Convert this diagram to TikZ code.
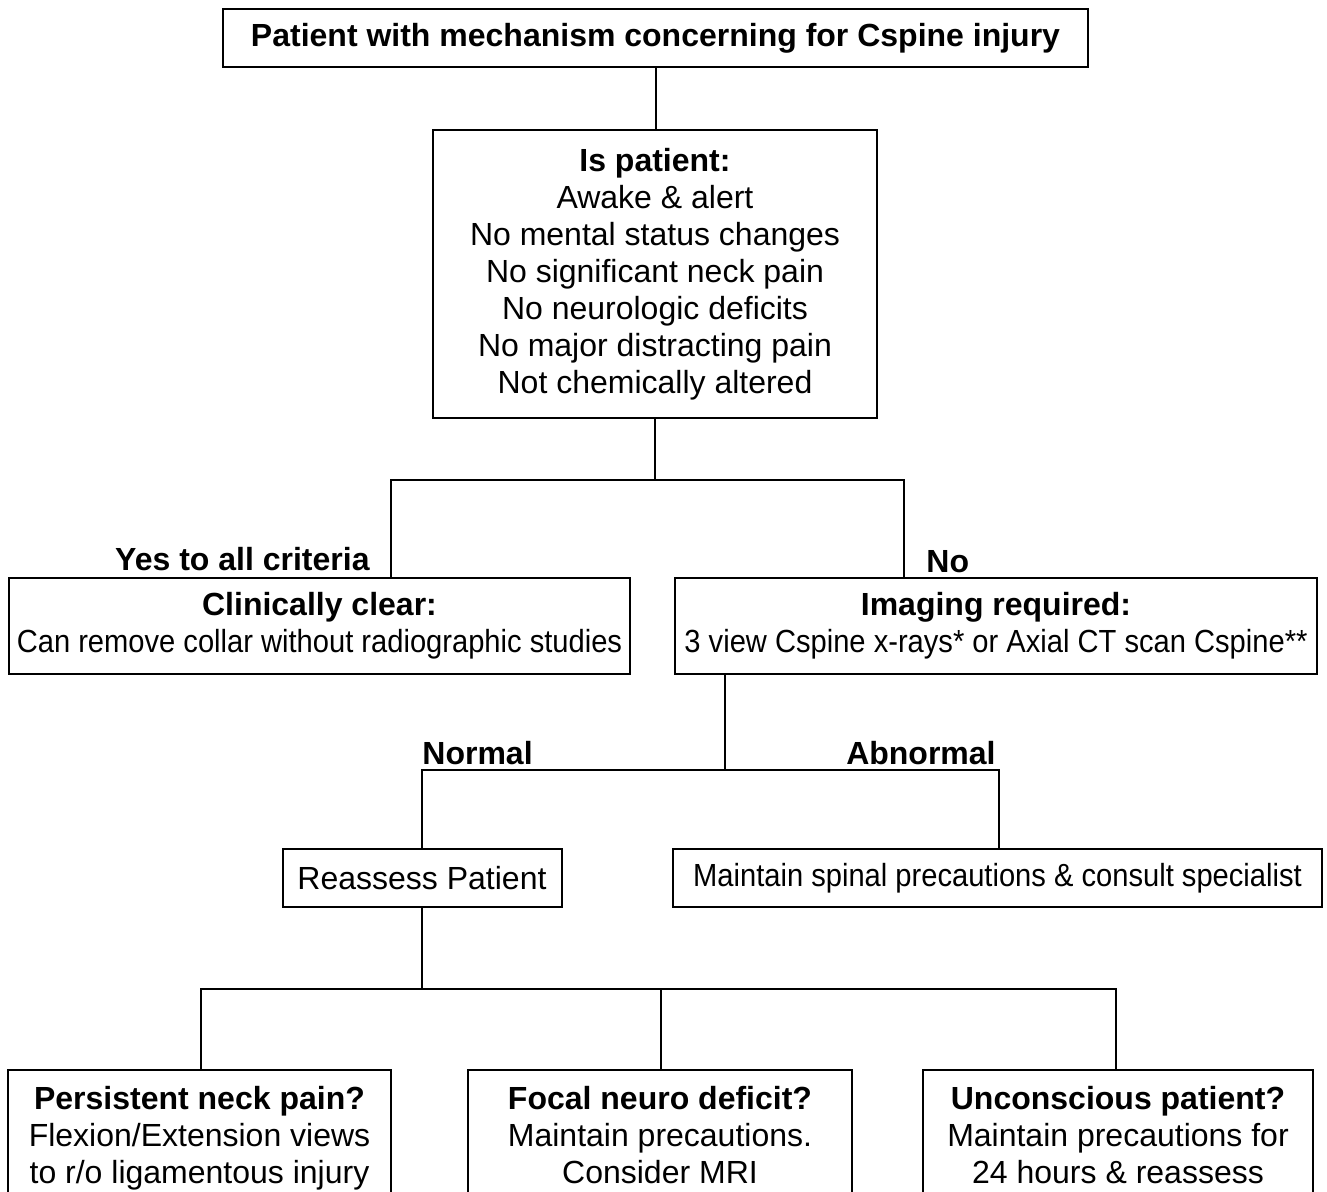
\documentclass[tikz,border=0pt]{standalone}
\usepackage{fontspec}
\setmainfont{Liberation Sans}
\newfontfamily\slimfont[FakeStretch=0.91]{Liberation Sans}
\usetikzlibrary{positioning}

\tikzset{
  flowbox/.style={draw=black,line width=1pt,fill=white,align=center,inner sep=0pt,
    font=\fontsize{16}{18.5}\selectfont},
  branchlabel/.style={inner sep=0pt,font=\fontsize{16}{18.5}\selectfont\bfseries},
  link/.style={draw=black,line width=1pt}
}

\begin{document}
\begin{tikzpicture}[x=0.5pt,y=-0.5pt]
  % --- page frame ---
  \useasboundingbox (0,0) rectangle (1327,1192);
  \clip (0,0) rectangle (1327,1192);

  % --- first question ---
  \node[flowbox,minimum width=432.5pt,minimum height=29pt] (mechanism) at (655.5,38)
    {\textbf{Patient with mechanism concerning for Cspine injury}};
  \node[flowbox,minimum width=222pt,minimum height=144pt] (criteria) at (655,274)
    {\textbf{Is patient:}\\Awake \& alert\\No mental status changes\\No significant neck pain\\
     No neurologic deficits\\No major distracting pain\\Not chemically altered};

  % --- clear or image ---
  \node[flowbox,minimum width=310.5pt,minimum height=48pt] (clear) at (319.5,626)
    {\textbf{Clinically clear:}\\{\slimfont Can remove collar without radiographic studies}};
  \node[flowbox,minimum width=321pt,minimum height=48pt] (imaging) at (996,626)
    {\textbf{Imaging required:}\\{\slimfont 3 view Cspine x-rays* or Axial CT scan Cspine**}};

  % --- result of imaging ---
  \node[flowbox,minimum width=139.5pt,minimum height=29pt] (reassess) at (422,878)
    {Reassess Patient};
  \node[flowbox,minimum width=324.5pt,minimum height=29pt] (specialist) at (997.5,878)
    {{\slimfont Maintain spinal precautions \& consult specialist}};

  % --- follow-up boxes (cut by the page edge) ---
  \node[flowbox,minimum width=191.5pt,minimum height=70pt] (neckpain) at (199.5,1140)
    {\textbf{Persistent neck pain?}\\Flexion/Extension views\\to r/o ligamentous injury\strut};
  \node[flowbox,minimum width=192pt,minimum height=70pt] (neuro) at (660,1140)
    {\textbf{Focal neuro deficit?}\\Maintain precautions.\\Consider MRI\strut};
  \node[flowbox,minimum width=195pt,minimum height=70pt] (unconscious) at (1118,1140)
    {\textbf{Unconscious patient?}\\Maintain precautions for\\24 hours \& reassess\strut};

  % --- branch points ---
  \coordinate (split1) at (655,480);
  \coordinate (yesjoin) at (391,480);
  \coordinate (nojoin) at (904,480);
  \coordinate (split2) at (725,770);
  \coordinate (normaljoin) at (422,770);
  \coordinate (abnormaljoin) at (999,770);
  \coordinate (split3) at (422,989);
  \coordinate (painjoin) at (201,989);
  \coordinate (neurojoin) at (661,989);
  \coordinate (unconsciousjoin) at (1116,989);

  % --- connectors ---
  \draw[link] (mechanism.south) -- (mechanism.south |- criteria.north);
  \draw[link] (criteria.south) -- (split1);
  \draw[link] (yesjoin |- clear.north) -- (yesjoin) -- (nojoin) -- (nojoin |- imaging.north);
  \draw[link] (split2 |- imaging.south) -- (split2);
  \draw[link] (normaljoin |- reassess.north) -- (normaljoin) -- (abnormaljoin)
    -- (abnormaljoin |- specialist.north);
  \draw[link] (reassess.south) -- (split3);
  \draw[link] (painjoin |- neckpain.north) -- (painjoin) -- (unconsciousjoin)
    -- (unconsciousjoin |- unconscious.north);
  \draw[link] (neurojoin) -- (neurojoin |- neuro.north);

  % --- branch labels ---
  \node[branchlabel,anchor=base east] (yeslabel) at (370,570) {Yes to all criteria};
  \node[branchlabel,anchor=base west] (nolabel) at (926,572) {No};
  \node[branchlabel,anchor=base west] (normallabel) at (422,764) {Normal};
  \node[branchlabel,anchor=base east] (abnormallabel) at (996,764) {Abnormal};
\end{tikzpicture}
\end{document}
